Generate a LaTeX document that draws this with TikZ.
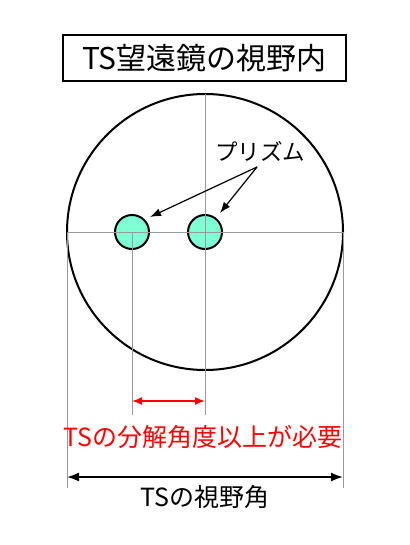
\documentclass[tikz,border=0pt]{standalone}
\usepackage{fontspec}
\setmainfont{Noto Sans CJK JP}
\usetikzlibrary{arrows.meta}
\definecolor{prismfill}{HTML}{7FFFD4}
\begin{document}
\begin{tikzpicture}[x=1pt,y=-1pt,
  guide/.style={draw=gray!80, line width=0.9pt},
  prism/.style={circle, draw=black, line width=2pt, fill=prismfill, minimum size=34pt, inner sep=0pt},
  arr/.style={-{Latex[length=11pt,width=8pt]}, line width=1.2pt},
  lbl/.style={inner sep=0pt, font=\fontsize{25}{25}\selectfont}]
\useasboundingbox (0,0) rectangle (409,545);
\fill[white] (0,0) rectangle (409,545);
% title
\node[draw=black, line width=1.5pt, minimum width=283pt, minimum height=46pt, inner sep=0pt,
  font=\fontsize{30}{30}\selectfont] (title) at (204.5,58) {TS望遠鏡の視野内};
% main circle
\node[circle, draw=black, line width=2pt, minimum size=276pt, inner sep=0pt] (field) at (205,232) {};
% cross lines
\coordinate (ctop) at (205,94);
\coordinate (cleft) at (67,232);
\coordinate (cright) at (343,232);
\draw[guide] (cleft) -- (cright);
\coordinate (vbot) at (205,415);
\draw[guide] (ctop) -- (vbot);
\coordinate (lbot) at (132,415);
\draw[guide] (132,232) -- (lbot);
\coordinate (llbot) at (67,488);
\coordinate (rrbot) at (343,488);
\draw[guide] (cleft) -- (llbot);
\draw[guide] (cright) -- (rrbot);
% prisms
\node[prism] (p1) at (132,232) {};
\node[prism] (p2) at (205,232) {};
\draw[guide] (132,232) -- (p1.south);
\draw[guide] (p2.north) -- (p2.south);
\draw[guide] (p1.west) -- (p2.east);
% label
\node[lbl, font=\fontsize{22.5}{22.5}\selectfont] (plabel) at (260,151) {プリズム};
\coordinate (pfrom) at (257,167);
\draw[arr] (pfrom) -- (150,217);
\draw[arr] (pfrom) -- (220,213);
% red arrow
\coordinate (ra) at (132,401);
\coordinate (rb) at (205,401);
\draw[red, line width=1.5pt, {Latex[length=10pt,width=8pt]}-{Latex[length=10pt,width=8pt]}] (ra) -- (rb);
\node[lbl, text=red] (rlabel) at (203,437) {TSの分解角度以上が必要};
% black arrow
\coordinate (ba) at (67,477);
\coordinate (bb) at (343,477);
\draw[line width=1.8pt, {Latex[length=12pt,width=9pt]}-{Latex[length=12pt,width=9pt]}] (ba) -- (bb);
\node[lbl] (blabel) at (205,497) {TSの視野角};
\end{tikzpicture}
\end{document}
